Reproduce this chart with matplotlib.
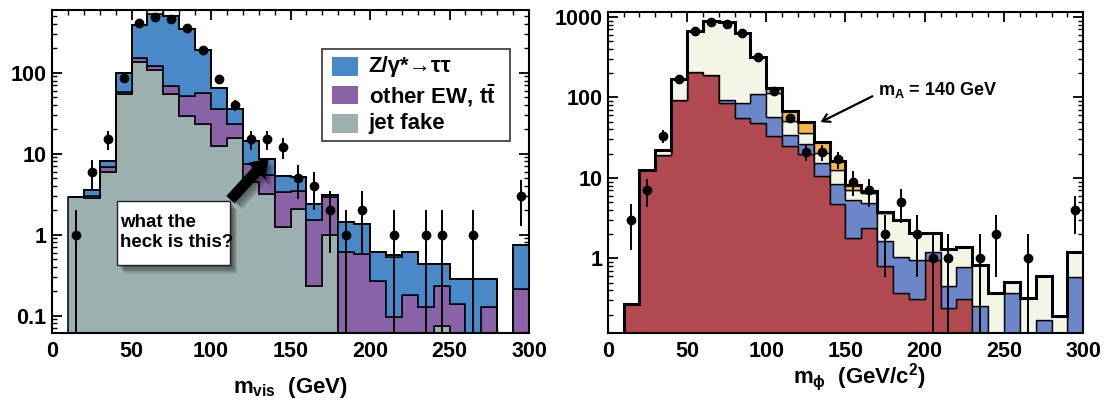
import numpy as np
import matplotlib
matplotlib.use("Agg")
import matplotlib.pyplot as plt
from matplotlib.patches import Rectangle, FancyArrowPatch
from matplotlib.ticker import FixedLocator, LogLocator, MultipleLocator, NullFormatter

plt.rcParams['font.family'] = ['Liberation Sans', 'DejaVu Sans']
plt.rcParams['font.weight'] = 'bold'
plt.rcParams['mathtext.fontset'] = 'custom'
plt.rcParams['mathtext.rm'] = 'Liberation Sans:bold'
plt.rcParams['mathtext.bf'] = 'Liberation Sans:bold'
plt.rcParams['mathtext.it'] = 'Liberation Sans:bold'

# ---------------- data ----------------
bin_edges = [10, 20, 30, 40, 50, 60, 70, 80, 90, 100, 110, 120, 130, 140, 150,
             160, 170, 180, 190, 200, 210, 220, 230, 240, 250, 260, 270, 280, 290, 300]

# left panel: m_vis
jet_fake = [2.95, 2.85, 6.0, 54, 137, 109, 55, 29.5, 23.5, 12.3, 15.5, 4.5, 3.2, 1.24, 2.1,
            0.23, 1.0, 0, 0, 0, 0, 0, 0, 0.074, 0, 0, 0, 0, 0]
other_ew = [0, 0.15, 0.8, 3, 16, 11, 12.7, 21.5, 32.5, 23.2, 7.9, 3.0, 2.2, 2.1, 1.4,
            1.27, 1.9, 0.61, 0.57, 0.27, 0.096, 0.178, 0.128, 0.156, 0.14, 0, 0.128, 0, 0.215]
ztautau = [0, 0.6, 1.3, 43, 231, 415, 428, 294, 132, 29.5, 12.6, 7.0, 3.3, 1.9, 1.7,
           0.9, 0.15, 0.82, 0.80, 0.34, 0.434, 0.43, 0.31, 0.21, 0.14, 0.286, 0.152, 0, 0.525]
extra_left = [0, 0, 0, 0, 0, 60, 0, 0, 0, 0, 0, 0, 0, 0, 0,
              0, 0, 0, 0, 0, 0, 0, 0, 0, 0, 0, 0, 0, 0]
signal_left = [0, 0, 0, 0, 0, 0, 0, 0, 0, 0, 0, 0, 0, 0, 0,
               0, 0, 0, 0, 0, 0.025, 0, 0, 0, 0, 0, 0, 0, 0]
data_left = [1, 6, 15, 86, 409, 486, 464, 359, 188, 84, 40, 15, 15, 12, 5,
             4, 2, 1, 2, 0, 1, 0, 1, 1, 0, 1, 0, 0, 3]

# right panel: m_phi
bkg_red = [0.27, 12.5, 19.2, 92, 205, 190, 84, 55, 47.4, 33, 25, 20, 10.5, 4.75, 1.77,
           2.36, 0.80, 0.367, 0.31, 0.95, 0.24, 0.31, 0, 0, 0, 0, 0, 0, 0]
bkg_blue = [0, 0, 0, 0, 0, 0, 8.5, 29, 62, 24.5, 9, 6, 4.8, 3.75, 3.6,
            2.5, 0.85, 0.66, 0.64, 0.26, 0.21, 0.48, 0.255, 0, 0.374, 0, 0.17, 0, 0.59]
bkg_cream = [0, 0, 2.8, 75, 467, 710, 767, 540, 210, 54.5, 17, 10.4, 5.0, 3.9, 1.66,
             1.6, 2.0, 2.0, 1.13, 0.87, 0.84, 0.6, 0.575, 0.374, 0.136, 0.32, 0.43, 0.19, 0.62]
signal_right = [0, 0, 0, 0, 0, 0, 0, 0, 0, 17, 16, 12.6, 7.7, 3.6, 1.2,
                0.5, 0.1, 0, 0, 0, 0, 0, 0, 0, 0, 0, 0, 0, 0]
data_right = [3, 7, 33, 169, 673, 869, 814, 624, 319, 121, 55, 21, 21, 17, 9,
              7, 2, 5, 2, 1, 1, 0, 1, 2, 0, 1, 0, 0, 4]

legend_labels = ['Z/γ*→ττ', r'other EW, t$\bar{\mathbf{t}}$', 'jet fake']

# ---------------- styles ----------------
C_GREY = '#9cb0b0'
C_PURPLE = '#8a63a6'
C_BLUE = '#4a89c8'
C_LIGHT = '#dfe3e3'
C_YELLOW = '#f2e45a'
C_RED = '#b04a50'
C_RBLUE = '#6b87c9'
C_CREAM = '#f3f6e6'
C_ORANGE = '#f5b942'
FLOOR = 1e-3

edges = np.array(bin_edges, dtype=float)
centers = 0.5 * (edges[:-1] + edges[1:])


def draw_stack(ax, layers, colors, lw=1.0):
    bottom = np.zeros(len(edges) - 1)
    for vals, col in zip(layers, colors):
        top = bottom + np.asarray(vals, dtype=float)
        ax.stairs(np.maximum(top, FLOOR), edges, baseline=np.maximum(bottom, FLOOR),
                  fill=True, facecolor=col, edgecolor='black', linewidth=lw, zorder=2)
        bottom = top
    return bottom


def draw_data(ax, vals):
    v = np.asarray(vals, dtype=float)
    m = v > 0
    lo = v[m] - np.maximum(v[m] - np.sqrt(v[m]), FLOOR)
    hi = np.sqrt(v[m])
    ax.errorbar(centers[m], v[m], yerr=[lo, hi], fmt='o', color='black', ms=6,
                elinewidth=1.4, capsize=0, zorder=5)


def style_axes(ax, ylim, yticks, ylabels):
    ax.set_yscale('log')
    ax.set_xlim(0, 300)
    ax.set_ylim(*ylim)
    ax.xaxis.set_major_locator(FixedLocator([0, 50, 100, 150, 200, 250, 300]))
    ax.xaxis.set_minor_locator(MultipleLocator(10))
    ax.yaxis.set_major_locator(FixedLocator(yticks))
    ax.set_yticklabels(ylabels)
    ax.yaxis.set_minor_locator(LogLocator(base=10, subs=np.arange(2, 10)))
    ax.yaxis.set_minor_formatter(NullFormatter())
    ax.tick_params(which='both', direction='in', top=True, right=True)
    ax.tick_params(which='major', length=7, width=1.3, labelsize=15.5, pad=4)
    ax.tick_params(axis='x', which='major', pad=6)
    ax.tick_params(which='minor', length=3.5, width=1.0)
    for lab in ax.get_xticklabels() + ax.get_yticklabels():
        lab.set_fontweight('bold')
    for s in ax.spines.values():
        s.set_linewidth(1.5)
        s.set_zorder(6)


fig = plt.figure(figsize=(11.07, 4.04), dpi=100)
axL = fig.add_axes([52 / 1107, 71 / 404, 477 / 1107, 323 / 404])
axR = fig.add_axes([607.7 / 1107, 71 / 404, 475.5 / 1107, 321 / 404])

# ---------------- left panel ----------------
draw_stack(axL, [jet_fake, other_ew, ztautau, signal_left, extra_left],
           [C_GREY, C_PURPLE, C_BLUE, C_YELLOW, C_LIGHT], lw=1.1)
draw_data(axL, data_left)
style_axes(axL, (0.061, 594), [0.1, 1, 10, 100], ['0.1', '1', '10', '100'])

# legend (manual)
axL.add_patch(Rectangle((0.565, 0.595), 0.395, 0.283, transform=axL.transAxes,
                        facecolor='white', edgecolor='#333333', lw=1.2, zorder=7))
for i, (lab, col) in enumerate(zip(legend_labels, [C_BLUE, C_PURPLE, C_GREY])):
    yc = 0.824 - i * 0.0875
    axL.add_patch(Rectangle((0.586, yc - 0.029), 0.056, 0.058, transform=axL.transAxes,
                            facecolor=col, edgecolor='none', zorder=8))
    axL.text(0.664, yc, lab, transform=axL.transAxes, fontsize=16, fontweight='bold',
             va='center', ha='left', zorder=8)

# annotation box with shadow
bx0, by0, bw, bh = 0.1356, 0.2105, 0.2374, 0.1991
for k in range(7):
    d = 0.6 + k * 0.9
    axL.add_patch(Rectangle((bx0 + 0.0025 * d, by0 - 0.0045 * d), bw, bh,
                            transform=axL.transAxes, facecolor='black',
                            edgecolor='none', alpha=0.10, zorder=7))
axL.add_patch(Rectangle((bx0, by0), bw, bh, transform=axL.transAxes,
                        facecolor='white', edgecolor='#222222', lw=1.0, zorder=8))
axL.text(0.1426, 0.312, 'what the\nheck is this?', transform=axL.transAxes,
         fontsize=13.5, fontweight='bold', va='center', ha='left', linespacing=1.25,
         zorder=9)
for k in range(4):
    axL.add_patch(FancyArrowPatch((113.5 + 0.8 * k, 2.5 / (1 + 0.05 * k)),
                                  (138.5 + 0.8 * k, 8.6 / (1 + 0.05 * k)),
                                  arrowstyle='simple,head_length=0.8,head_width=1.1,tail_width=0.5',
                                  mutation_scale=16, color='black', alpha=0.12,
                                  lw=0, zorder=7))
axL.add_patch(FancyArrowPatch((111, 2.55), (137.5, 9.3),
                              arrowstyle='simple,head_length=0.8,head_width=1.1,tail_width=0.5',
                              mutation_scale=16, color='black', lw=0, zorder=9))

fig.text(290 / 1107, 1 - 387 / 404, r'$\mathbf{m}_{\mathbf{vis}}$  (GeV)', fontsize=16,
         fontweight='bold', ha='center', va='center')

# ---------------- right panel ----------------
total_r = draw_stack(axR, [bkg_red, bkg_blue, bkg_cream, signal_right],
                     [C_RED, C_RBLUE, C_CREAM, C_ORANGE], lw=1.0)
axR.stairs(np.maximum(total_r, FLOOR), edges, baseline=FLOOR, fill=False,
           edgecolor='black', linewidth=2.2, zorder=3)
draw_data(axR, data_right)
style_axes(axR, (0.118, 1150), [1, 10, 100, 1000], ['1', '10', '100', '1000'])

axR.annotate('', xy=(132.7, 47.5), xytext=(168.6, 107),
             arrowprops=dict(arrowstyle='->,head_length=0.5,head_width=0.3', lw=1.6,
                             color='black'), zorder=8)
axR.text(170.5, 123, r'$\mathbf{m_A}$ = 140 GeV', fontsize=13, fontweight='bold',
         va='center', ha='left', zorder=8)

fig.text(859 / 1107, 1 - 377 / 404, r'$\mathbf{m}_{\mathrm{\phi}}$  (GeV/c$^{\mathbf{2}}$)',
         fontsize=16, fontweight='bold', ha='center', va='center')

fig.savefig('out.png', dpi=100)
